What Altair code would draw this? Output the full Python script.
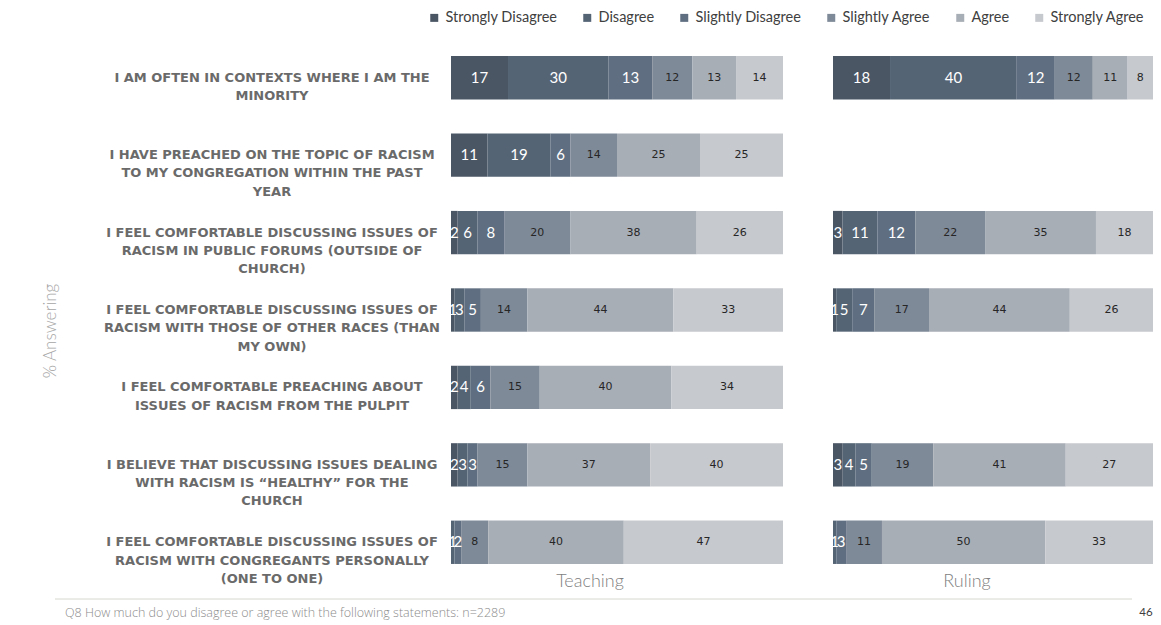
import altair as alt
import pandas as pd

categories = ["Strongly Disagree", "Disagree", "Slightly Disagree",
              "Slightly Agree", "Agree", "Strongly Agree"]
colors = ["#4b5664", "#556475", "#5f6f81", "#7f8a98", "#a8aeb6", "#c6c9ce"]

statement_lines = [
    ["I AM OFTEN IN CONTEXTS WHERE I AM THE", "MINORITY"],
    ["I HAVE PREACHED ON THE TOPIC OF RACISM", "TO MY CONGREGATION WITHIN THE PAST", "YEAR"],
    ["I FEEL COMFORTABLE DISCUSSING ISSUES OF", "RACISM IN PUBLIC FORUMS (OUTSIDE OF", "CHURCH)"],
    ["I FEEL COMFORTABLE DISCUSSING ISSUES OF", "RACISM WITH THOSE OF OTHER RACES (THAN", "MY OWN)"],
    ["I FEEL COMFORTABLE PREACHING ABOUT", "ISSUES OF RACISM FROM THE PULPIT"],
    ["I BELIEVE THAT DISCUSSING ISSUES DEALING", "WITH RACISM IS \u201cHEALTHY\u201d FOR THE", "CHURCH"],
    ["I FEEL COMFORTABLE DISCUSSING ISSUES OF", "RACISM WITH CONGREGANTS PERSONALLY", "(ONE TO ONE)"],
]

teaching = [
    [17, 30, 13, 12, 13, 14],
    [11, 19, 6, 14, 25, 25],
    [2, 6, 8, 20, 38, 26],
    [1, 3, 5, 14, 44, 33],
    [2, 4, 6, 15, 40, 34],
    [2, 3, 3, 15, 37, 40],
    [0, 1, 2, 8, 40, 47],
]
ruling = [
    [18, 40, 12, 12, 11, 8],
    None,
    [3, 11, 12, 22, 35, 18],
    [1, 5, 7, 17, 44, 26],
    None,
    [3, 4, 5, 19, 41, 27],
    [0, 1, 3, 11, 50, 33],
]
group_names = ["Teaching", "Ruling"]
footer_text = "Q8  How much do you disagree or agree with the following statements: n=2289"
page_number = "46"
axis_title = "% Answering"

statements = [" ".join(l) for l in statement_lines]
rows = []
for grp, table in zip(group_names, (teaching, ruling)):
    for s, vals in zip(statements, table):
        if vals is None:
            continue
        for k, (c, v) in enumerate(zip(categories, vals)):
            rows.append(dict(group=grp, statement=s, category=c, order=k, value=v))
df = pd.DataFrame(rows)
labels_df = pd.DataFrame({"statement": statements,
                          "label": ["\n".join(l) for l in statement_lines]})

H = 542
yscale = alt.Scale(domain=statements, paddingInner=0.44, paddingOuter=0.22)
xscale = alt.Scale(domain=[0, 1])
legend = alt.Legend(title=None, orient="none", legendX=284, legendY=-28.5,
                    direction="horizontal", symbolType="square", symbolSize=64,
                    symbolStrokeWidth=0, labelFont="Lato", labelFontSize=14.5,
                    labelColor="#404040", columnPadding=22, symbolOffset=0,
                    labelOffset=4)


def panel(grp, width, title_x, show_domain):
    base = (alt.Chart(df)
            .transform_filter(alt.datum.group == grp)
            .transform_joinaggregate(total="sum(value)", groupby=["statement"])
            .transform_window(cum="sum(value)", sort=[alt.SortField("order")],
                              groupby=["statement"])
            .transform_calculate(start="(datum.cum - datum.value) / datum.total",
                                 end="datum.cum / datum.total",
                                 mid="(datum.cum - datum.value / 2) / datum.total"))
    if show_domain:
        yaxis = alt.Axis(labels=False, ticks=False, title=None, grid=False,
                         domainColor="#d9d9d9", domainWidth=1)
    else:
        yaxis = None
    bars = base.mark_bar(stroke=None).encode(
        x=alt.X("start:Q", scale=xscale, axis=None),
        x2="end:Q",
        y=alt.Y("statement:N", scale=yscale, axis=yaxis),
        color=alt.Color("category:N", scale=alt.Scale(domain=categories, range=colors),
                        legend=legend),
    )
    light = base.transform_filter("datum.order < 3 && datum.value > 0").mark_text(
        color="white", font="Lato", fontSize=15, baseline="middle").encode(
        x=alt.X("mid:Q", scale=xscale, axis=None),
        y=alt.Y("statement:N", scale=yscale, axis=None),
        text=alt.Text("value:Q", format="d"),
    )
    dark = base.transform_filter("datum.order >= 3 && datum.value > 0").mark_text(
        color="#262626", font="DejaVu Sans", fontSize=11, baseline="middle").encode(
        x=alt.X("mid:Q", scale=xscale, axis=None),
        y=alt.Y("statement:N", scale=yscale, axis=None),
        text=alt.Text("value:Q", format="d"),
    )
    title = alt.Chart(pd.DataFrame({"t": [grp]})).mark_text(
        font="Lato", fontSize=18, fontWeight=300, color="#7f7f7f", baseline="middle").encode(
        x=alt.value(title_x), y=alt.value(H + 1), text="t:N")
    return alt.layer(bars, light, dark, title).properties(width=width, height=H)


LW = 258
label_text = alt.Chart(labels_df).mark_text(
    font="DejaVu Sans", fontSize=13, fontWeight="bold", color="#6a6a6a",
    align="center", baseline="middle", lineBreak="\n", lineHeight=18.3).encode(
    x=alt.value(LW / 2),
    y=alt.Y("statement:N", scale=yscale, axis=None),
    text="label:N",
)
ytitle = alt.Chart(pd.DataFrame({"t": [axis_title]})).mark_text(
    font="Lato", fontSize=17, fontWeight=300, color="#a6a6a6", angle=270,
    baseline="middle", align="center").encode(
    x=alt.value(-92), y=alt.value(292), text="t:N")
footer_rule = alt.Chart(pd.DataFrame({"a": [0]})).mark_rule(
    color="#d6d6cf", strokeWidth=1).encode(
    x=alt.value(-88), x2=alt.value(989), y=alt.value(560))
footer = alt.Chart(pd.DataFrame({"t": [footer_text]})).mark_text(
    font="Open Sans", fontSize=12.5, fontWeight=300, color="#8c8c8c", align="left",
    baseline="middle").encode(
    x=alt.value(-78), y=alt.value(574), text="t:N")
pnum = alt.Chart(pd.DataFrame({"t": [page_number]})).mark_text(
    font="Lato", fontSize=11.5, color="#404040", align="center", baseline="middle").encode(
    x=alt.value(1003), y=alt.value(574), text="t:N")

labels_panel = alt.layer(label_text, ytitle, footer_rule, footer, pnum).properties(
    width=LW, height=H)

chart = alt.hconcat(
    labels_panel,
    panel("Teaching", 332, 139, True),
    panel("Ruling", 320, 134, False),
    spacing=50,
    bounds="flush",
).resolve_scale(color="shared").properties(
    padding={"left": 34, "top": 2, "right": 0, "bottom": 0}
).configure_view(stroke=None)

chart.save("out.html", embed_options={"renderer": "svg", "actions": False})
